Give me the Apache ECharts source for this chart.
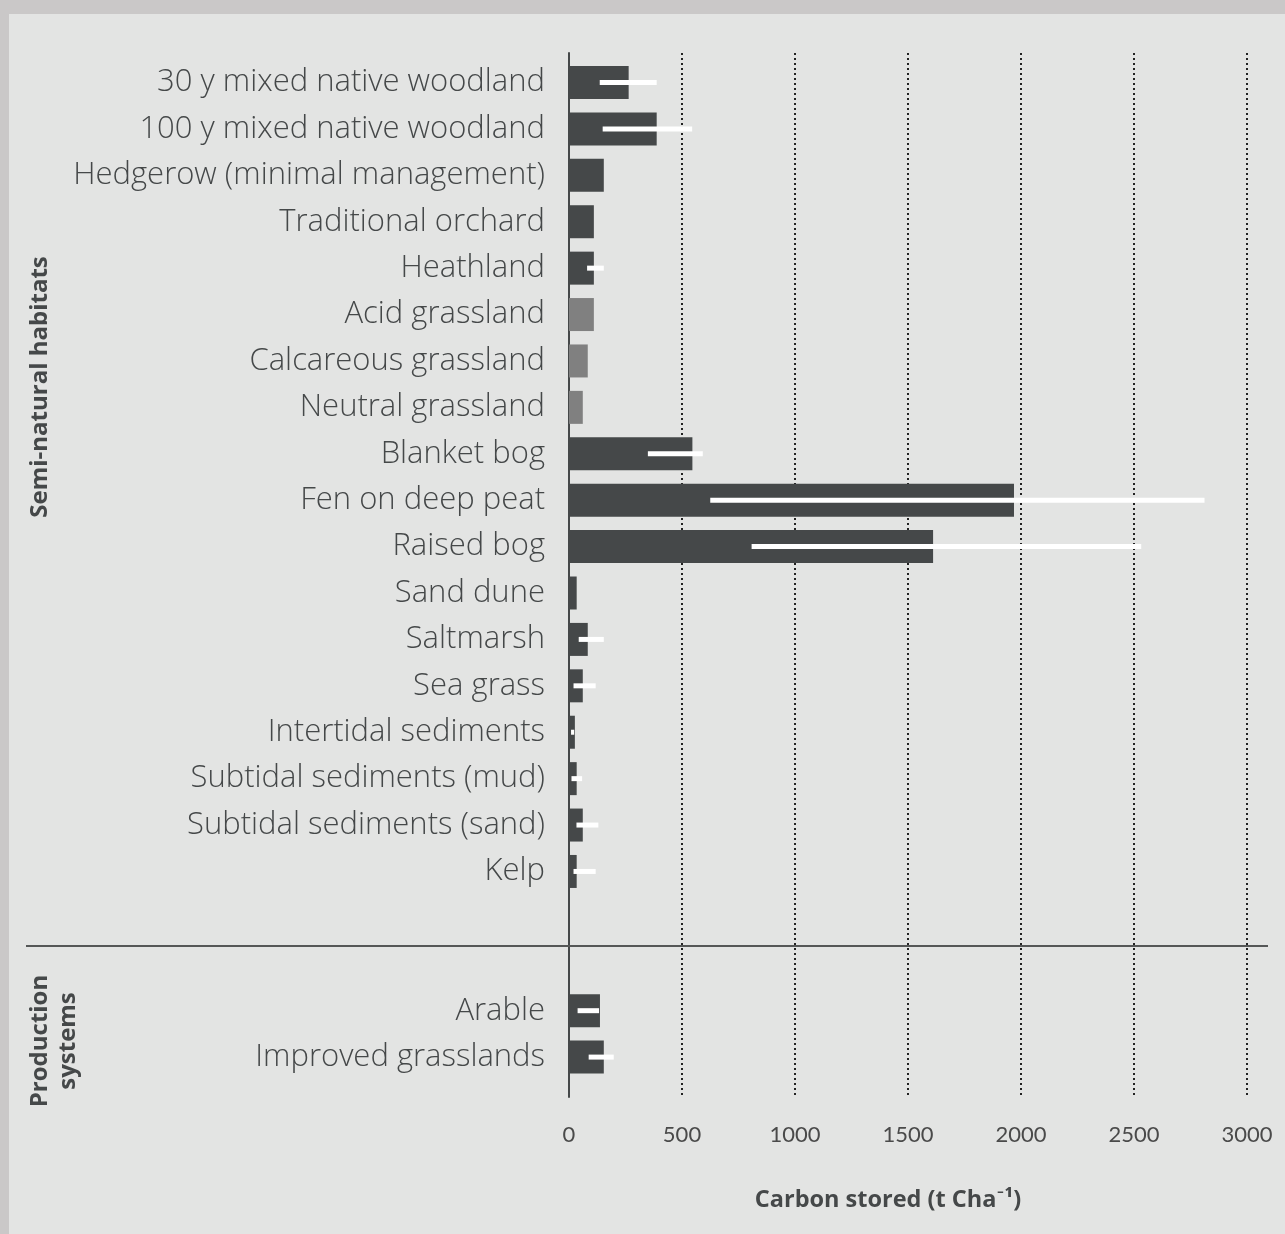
<!DOCTYPE html>
<html>
<head>
<meta charset="utf-8">
<script src="https://cdn.jsdelivr.net/npm/echarts@6/dist/echarts.min.js"></script>
<style>
html,body{margin:0;padding:0;background:#cac8c8;}
#chart{width:1285px;height:1234px;}
</style>
</head>
<body>
<div id="chart"></div>
<script>
// ---- data ----
var categories = [
  '30 y mixed native woodland', '100 y mixed native woodland', 'Hedgerow (minimal management)',
  'Traditional orchard', 'Heathland', 'Acid grassland', 'Calcareous grassland', 'Neutral grassland',
  'Blanket bog', 'Fen on deep peat', 'Raised bog', 'Sand dune', 'Saltmarsh', 'Sea grass',
  'Intertidal sediments', 'Subtidal sediments (mud)', 'Subtidal sediments (sand)', 'Kelp',
  '', ' ', 'Arable', 'Improved grasslands'
];
var carbonStored = [264, 388, 154, 110, 110, 110, 83, 61, 546, 1969, 1611, 34, 83, 61, 26, 34, 61, 34, null, null, 137, 154];
var errorLow  = [136, 149, null, null, 80, null, null, null, 349, 625, 808, null, 43, 20, 9, 11, 33, 20, null, null, 38, 87];
var errorHigh = [388, 545, null, null, 154, null, null, null, 592, 2812, 2532, null, 154, 118, 23, 58, 130, 118, null, null, 133, 198];
var grasslandCategories = ['Acid grassland', 'Calcareous grassland', 'Neutral grassland'];
var xTicks = [0, 500, 1000, 1500, 2000, 2500, 3000];

var DARK = '#454849', LIGHT = '#808080';
var barData = carbonStored.map(function (v, i) {
  return {
    value: v,
    itemStyle: { color: grasslandCategories.indexOf(categories[i]) >= 0 ? LIGHT : DARK }
  };
});
var errData = [];
for (var i = 0; i < categories.length; i++) {
  if (errorLow[i] != null) errData.push([i, errorLow[i], errorHigh[i]]);
}

var chart = echarts.init(document.getElementById('chart'));
var labelFont = '"Open Sans", Lato, sans-serif';
var tickFont = 'Lato, "Open Sans", sans-serif';

chart.setOption({
  backgroundColor: '#cac8c8',
  animation: false,
  graphic: [
    { type: 'rect', z: -100, silent: true, shape: { x: 9, y: 14, width: 1276, height: 1220 }, style: { fill: '#e3e4e3' } },
    { type: 'line', z: 100, silent: true, shape: { x1: 26, y1: 946, x2: 1268, y2: 946 }, style: { stroke: '#555757', lineWidth: 2 } },
    { type: 'text', z: 100, x: 40, y: 387, rotation: Math.PI / 2,
      style: { text: 'Semi-natural habitats', fill: '#454849', font: 'bold 24px ' + labelFont, align: 'center', verticalAlign: 'middle' } },
    { type: 'text', z: 100, x: 54, y: 1041, rotation: Math.PI / 2,
      style: { text: 'Production\nsystems', fill: '#454849', font: 'bold 24px ' + labelFont, align: 'center', verticalAlign: 'middle', lineHeight: 28 } }
  ],
  grid: [
    { left: 569, width: 678, top: 53, bottom: 137, containLabel: false },
    { left: 569, width: 678, top: 59.3, height: 1021, containLabel: false }
  ],
  xAxis: [
    {
      gridIndex: 0, type: 'value', min: xTicks[0], max: xTicks[xTicks.length - 1], interval: 500,
      axisLine: { show: false }, axisTick: { show: false },
      axisLabel: { color: '#4a4a4a', fontSize: 22, fontFamily: tickFont, margin: 27, showMinLabel: true, showMaxLabel: true,
        formatter: function (v) { return String(v); } },
      splitLine: { show: true, lineStyle: { color: '#222', type: [2, 3], width: 2 } },
      name: 'Carbon stored (t Cha⁻¹)', nameLocation: 'middle', nameGap: 91,
      nameTextStyle: { color: '#454849', fontSize: 23.5, fontWeight: 'bold', fontFamily: labelFont, padding: [0, 40, 0, 0] }
    },
    {
      gridIndex: 1, type: 'value', min: 0, max: 3000, interval: 500, show: false
    }
  ],
  yAxis: [
    {
      gridIndex: 0, type: 'value', min: 0, max: 1,
      axisLine: { show: true, onZero: true, lineStyle: { color: '#454849', width: 2 } },
      axisTick: { show: false }, axisLabel: { show: false }, splitLine: { show: false }
    },
    {
      gridIndex: 1, type: 'category', data: categories, inverse: true,
      axisLine: { show: false }, axisTick: { show: false },
      axisLabel: { color: '#454849', fontSize: 31, fontFamily: labelFont, fontWeight: 300, margin: 24, interval: 0 }
    }
  ],
  series: [
    {
      type: 'bar', xAxisIndex: 1, yAxisIndex: 1, data: barData, barWidth: 33, z: 2
    },
    {
      type: 'custom', xAxisIndex: 1, yAxisIndex: 1, z: 5, data: errData,
      encode: { x: [1, 2], y: 0 },
      renderItem: function (params, api) {
        var p1 = api.coord([api.value(1), api.value(0)]);
        var p2 = api.coord([api.value(2), api.value(0)]);
        return {
          type: 'rect',
          shape: { x: p1[0], y: p1[1] - 2.5, width: p2[0] - p1[0], height: 5 },
          style: { fill: '#ffffff' }
        };
      }
    }
  ]
});
</script>
</body>
</html>
